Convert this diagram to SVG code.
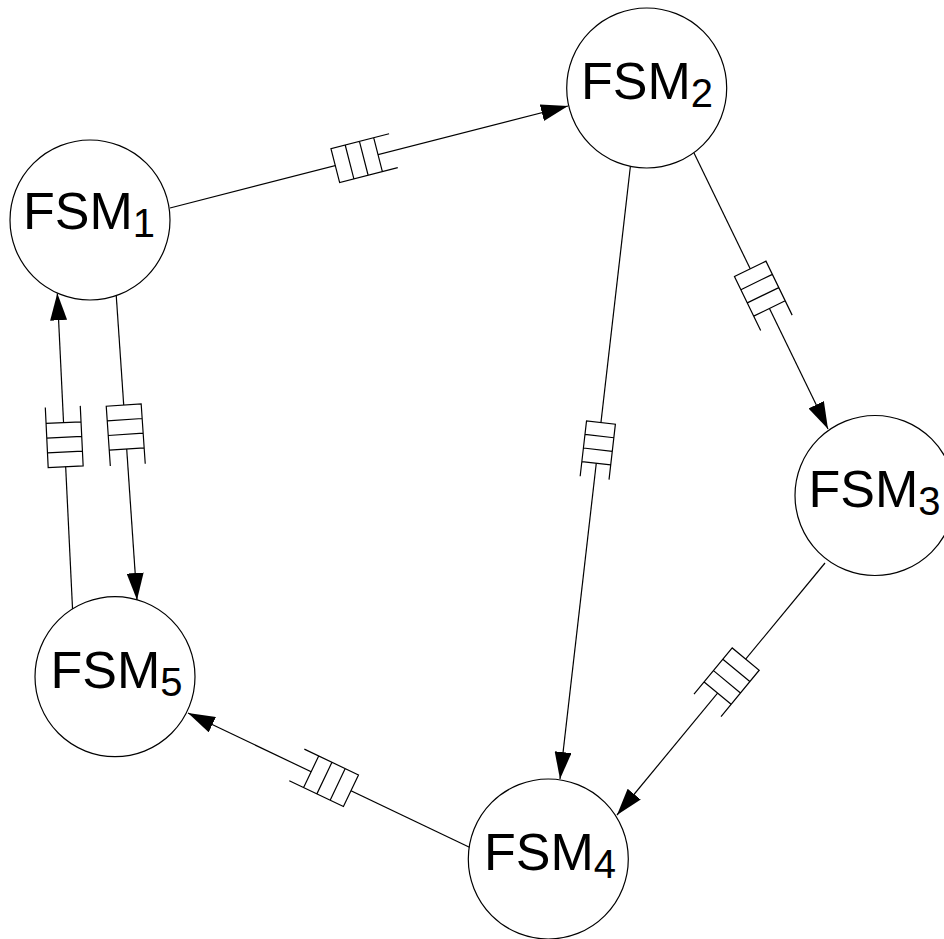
<svg xmlns="http://www.w3.org/2000/svg" xmlns:xlink="http://www.w3.org/1999/xlink" width="944" height="939" viewBox="0 0 944 939">
<style>
.node{fill:#fff;stroke:#000;stroke-width:1.2}
.lbl{font-family:"Liberation Sans",Arial,Helvetica,sans-serif;font-size:52px;fill:#000;text-anchor:middle}
.sub{font-size:40px}
.edge{fill:none;stroke:#000;stroke-width:1.2}
.qs{fill:none;stroke:#000;stroke-width:1.2;vector-effect:non-scaling-stroke}
</style>
<defs>
<marker id="ah" markerUnits="userSpaceOnUse" markerWidth="27" markerHeight="17" refX="27" refY="8.5" orient="auto">
<path d="M0,0 L27,8.5 L0,17 z" fill="#000"/>
</marker>
<g id="q">
<rect x="0" y="-17.5" width="44.1" height="35" fill="#fff"/>
<path class="qs" d="M60,-17.5 H0 V17.5 H60 M14.7,-17.5 V17.5 M29.4,-17.5 V17.5 M44.1,-17.5 V17.5"/>
</g>
</defs>
<g id="connectors">
<line class="edge" x1="170" y1="208" x2="568" y2="106" marker-end="url(#ah)"/>
<line class="edge" x1="631" y1="161" x2="560" y2="779" marker-end="url(#ah)"/>
<line class="edge" x1="694" y1="153" x2="828" y2="429" marker-end="url(#ah)"/>
<line class="edge" x1="825" y1="563" x2="617" y2="815" marker-end="url(#ah)"/>
<line class="edge" x1="471" y1="848" x2="188" y2="713" marker-end="url(#ah)"/>
<line class="edge" x1="116" y1="292" x2="137" y2="600" marker-end="url(#ah)"/>
<line class="edge" x1="72.7" y1="612.3" x2="57.3" y2="293.3" marker-end="url(#ah)"/>
<use xlink:href="#q" transform="translate(335.3,165.6) rotate(-14.37)"/>
<use xlink:href="#q" transform="translate(600.96,422.5) rotate(96.55) scale(0.93,0.83)"/>
<use xlink:href="#q" transform="translate(750.2,268.8) rotate(64.10)"/>
<use xlink:href="#q" transform="translate(745.7,659.1) rotate(129.54)"/>
<use xlink:href="#q" transform="translate(350.96,790.74) rotate(-154.5)"/>
<use xlink:href="#q" transform="translate(123.7,405) rotate(86.10)"/>
<use xlink:href="#q" transform="translate(65.67,466.67) rotate(-92.76)"/>
</g>
<g id="fsm1"><circle class="node" cx="90" cy="220" r="80"/><text class="lbl" x="89" y="229.3">FSM<tspan class="sub" dy="8">1</tspan></text></g>
<g id="fsm2"><circle class="node" cx="646.7" cy="88" r="80"/><text class="lbl" x="647" y="99.3">FSM<tspan class="sub" dy="8">2</tspan></text></g>
<g id="fsm3"><circle class="node" cx="875" cy="495.5" r="80"/><text class="lbl" x="874.5" y="506.7">FSM<tspan class="sub" dy="8">3</tspan></text></g>
<g id="fsm4"><circle class="node" cx="548.3" cy="859" r="80"/><text class="lbl" x="550" y="870">FSM<tspan class="sub" dy="8">4</tspan></text></g>
<g id="fsm5"><circle class="node" cx="115" cy="676.7" r="80"/><text class="lbl" x="116.5" y="688.3">FSM<tspan class="sub" dy="8">5</tspan></text></g>
</svg>
